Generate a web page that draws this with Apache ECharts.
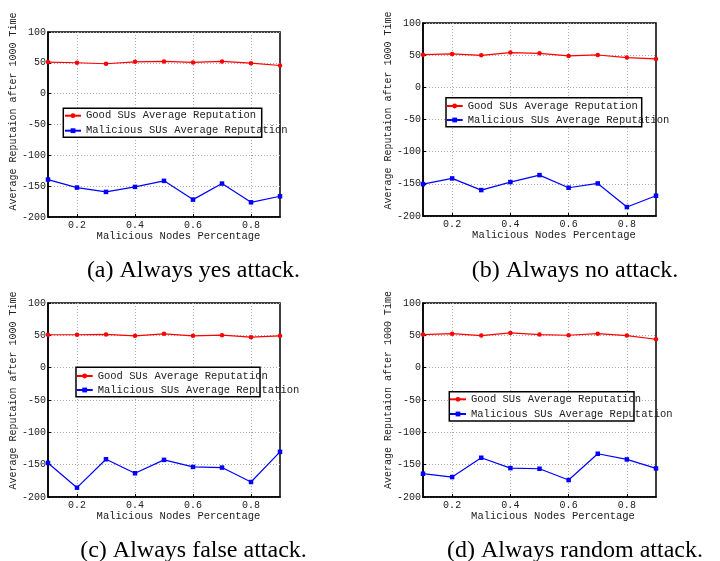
<!DOCTYPE html>
<html><head><meta charset="utf-8">
<script src="https://cdn.jsdelivr.net/npm/echarts@6/dist/echarts.min.js"></script>
<style>html,body{margin:0;padding:0;background:#fff}#c{width:720px;height:561px}</style>
</head><body><div id="c"></div>
<script>
// ---- data ----
const xCategories = ['0.1','0.2','0.3','0.4','0.5','0.6','0.7','0.8','0.9'];
const yMin = -200, yMax = 100, yStep = 50;
const seriesNames = ['Good SUs Average Reputation', 'Malicious SUs Average Reputation'];
const xTitle = 'Malicious Nodes Percentage';
const yTitle = 'Average Reputaion after 1000 Time';
const captions = ['(a) Always yes attack.', '(b) Always no attack.', '(c) Always false attack.', '(d) Always random attack.'];

const goodYes    = [51.2, 50.1, 48.5, 51.7, 52.3, 50.6, 52.3, 49.5, 45.7];
const malYes     = [-139.3, -152.3, -159.3, -151.2, -141.4, -171.8, -145.8, -176.2, -166.4];
const goodNo     = [50.8, 51.9, 49.8, 54.0, 52.9, 48.8, 50.3, 46.2, 44.1];
const malNo      = [-150.4, -141.6, -159.7, -147.3, -136.4, -156.1, -149.4, -186.1, -168.5];
const goodFalse  = [50.9, 50.9, 51.4, 49.3, 52.4, 49.3, 50.3, 47.2, 49.3];
const malFalse   = [-147.3, -185.6, -141.6, -163.3, -142.6, -153.5, -154.5, -176.8, -130.2];
const goodRandom = [51.1, 52.6, 49.6, 53.7, 51.1, 50.1, 52.6, 49.6, 43.9];
const malRandom  = [-164.0, -169.2, -139.3, -155.3, -156.3, -173.8, -133.1, -141.9, -155.8];

const panelData = [[goodYes, malYes], [goodNo, malNo], [goodFalse, malFalse], [goodRandom, malRandom]];

// ---- layout / style ----
const MONO = 'Liberation Mono';
const SERIF = 'Liberation Serif';
const TXT = '#222';
const layout = [
  {grid:{left:48, top:32, width:232, height:185}, yGap:27, yShift:26, xGap:12, xShift:29,
   leg:{left:64, top:109.7, gap:3}, box:[63.3,108.3,198.4,29], cap:[193.5,271]},
  {grid:{left:423, top:23, width:233, height:193}, yGap:25, yShift:18, xGap:12, xShift:29,
   leg:{left:445.7, top:100, gap:2}, box:[446,97.7,195.7,29], cap:[575,271]},
  {grid:{left:48, top:303, width:232, height:194}, yGap:27, yShift:19, xGap:12, xShift:29,
   leg:{left:75.7, top:370, gap:2}, box:[76,367.3,184,29.4], cap:[193.5,551]},
  {grid:{left:423, top:303, width:233, height:194}, yGap:26.5, yShift:20, xGap:14, xShift:27,
   leg:{left:449, top:393.3, gap:2.7}, box:[449.3,391.7,184.7,29.3], cap:[575,551]}
];
const colors = ['#ff0000', '#0000ff'];
const symbols = ['circle', 'rect'];
const oddIdx = (i) => i % 2 === 1;

const option = {
  animation: false,
  backgroundColor: '#fff',
  grid: [], xAxis: [], yAxis: [], series: [], legend: [], graphic: []
};

layout.forEach((L, p) => {
  option.grid.push(Object.assign({show: true, borderColor: '#000', borderWidth: 1.5, backgroundColor: 'transparent'}, L.grid));
  option.xAxis.push({
    type: 'category', gridIndex: p, data: xCategories, boundaryGap: false,
    name: xTitle, nameLocation: 'middle', nameGap: L.xGap,
    nameTextStyle: {fontFamily: MONO, fontSize: 10.5, color: TXT, padding: [0, 0, 0, L.xShift]},
    axisLine: {onZero: false, lineStyle: {color: '#000', width: 1.5}},
    axisTick: {show: true, inside: true, length: 3, interval: oddIdx, lineStyle: {color: '#000'}},
    axisLabel: {interval: oddIdx, fontFamily: MONO, fontSize: 10, color: TXT, margin: 3},
    splitLine: {show: true, interval: oddIdx, lineStyle: {color: '#aaa', width: 1, type: [1, 2]}}
  });
  option.yAxis.push({
    type: 'value', gridIndex: p, min: yMin, max: yMax, interval: yStep,
    name: yTitle, nameLocation: 'middle', nameGap: L.yGap, nameRotate: 90,
    nameTextStyle: {fontFamily: MONO, fontSize: 10, color: TXT, padding: [0, 0, 0, L.yShift]},
    axisLine: {show: true, onZero: false, lineStyle: {color: '#000', width: 1.5}},
    axisTick: {show: true, inside: true, length: 3, lineStyle: {color: '#000'}},
    axisLabel: {fontFamily: MONO, fontSize: 10, color: TXT, margin: 2},
    splitLine: {show: true, lineStyle: {color: '#aaa', width: 1, type: [1, 2]}}
  });
  panelData[p].forEach((vals, s) => {
    option.series.push({
      type: 'line', name: seriesNames[s], xAxisIndex: p, yAxisIndex: p, data: vals,
      symbol: symbols[s], symbolSize: 4.5, showSymbol: true,
      lineStyle: {color: colors[s], width: 1.2}, itemStyle: {color: colors[s]}, z: 3
    });
  });
  option.legend.push({
    data: seriesNames, orient: 'vertical', left: L.leg.left, top: L.leg.top, padding: 0,
    itemGap: L.leg.gap, itemWidth: 16, itemHeight: 6, selectedMode: false, z: 10,
    textStyle: {fontFamily: MONO, fontSize: 10.5, color: TXT, lineHeight: 12}
  });
  option.graphic.push({
    type: 'rect', z: 5, shape: {x: L.box[0], y: L.box[1], width: L.box[2], height: L.box[3]},
    style: {fill: '#fff', stroke: '#000', lineWidth: 1.5}
  });
  option.graphic.push({
    type: 'text', z: 5, x: L.cap[0], y: L.cap[1],
    style: {text: captions[p], font: '24px "' + SERIF + '"', fill: '#000', textAlign: 'center', textVerticalAlign: 'middle'}
  });
});

const chart = echarts.init(document.getElementById('c'), null, {renderer: 'canvas'});
chart.setOption(option);
</script>
</body></html>
